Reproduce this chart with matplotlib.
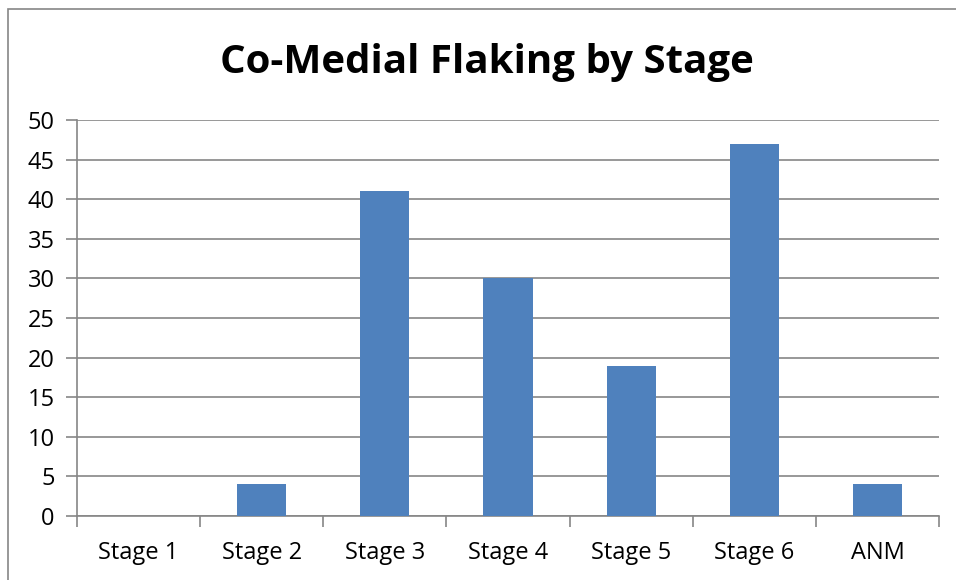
import matplotlib
matplotlib.use("Agg")
import matplotlib.pyplot as plt
from matplotlib.patches import Rectangle
import numpy as np

categories = ["Stage 1", "Stage 2", "Stage 3", "Stage 4", "Stage 5", "Stage 6", "ANM"]
counts = [0, 4, 41, 30, 19, 47, 4]
y_ticks = [0, 5, 10, 15, 20, 25, 30, 35, 40, 45, 50]

plt.rcParams["font.family"] = ["Open Sans", "DejaVu Sans"]

grid_color = "#868686"
bar_color = "#4F81BD"

fig = plt.figure(figsize=(9.56, 5.8), dpi=100)
fig.patch.set_facecolor("white")

# chart frame (runs off the right and bottom edges)
fig.patches.append(Rectangle((8 / 956, -0.05), 1.2, 1 - 9 / 580 + 0.05,
                             transform=fig.transFigure, fill=False,
                             edgecolor=grid_color, linewidth=1.2))

ax = fig.add_axes([77 / 956, 1 - 516 / 580, (939 - 77) / 956, (516 - 120) / 580])

x = np.arange(len(categories))
ax.bar(x, counts, width=0.4, color=bar_color, zorder=3)

ax.set_xlim(-0.5, len(categories) - 0.5)
ax.set_ylim(0, 50)
ax.set_yticks(y_ticks)
ax.set_yticklabels([str(v) for v in y_ticks])
ax.yaxis.grid(True, color=grid_color, linewidth=1.2, zorder=0)
ax.set_axisbelow(True)

# category boundary ticks, labels centred in each category
ax.set_xticks(np.arange(-0.5, len(categories)), minor=False)
ax.set_xticklabels([])
ax.set_xticks(x, minor=True)
ax.set_xticklabels(categories, minor=True)
ax.tick_params(axis="x", which="major", direction="out", length=8, width=1.2, color=grid_color)
ax.tick_params(axis="x", which="minor", length=0, pad=18, labelsize=17)
ax.tick_params(axis="y", direction="out", length=8, width=1.2, color=grid_color, pad=8, labelsize=17)

for side in ("top", "right"):
    ax.spines[side].set_visible(False)
for side in ("left", "bottom"):
    ax.spines[side].set_color(grid_color)
    ax.spines[side].set_linewidth(1.2)

fig.text(487 / 956, 1 - 62 / 580, "Co-Medial Flaking by Stage", ha="center", va="center",
         fontsize=29, fontweight="bold")

fig.savefig("out.png", dpi=100)
